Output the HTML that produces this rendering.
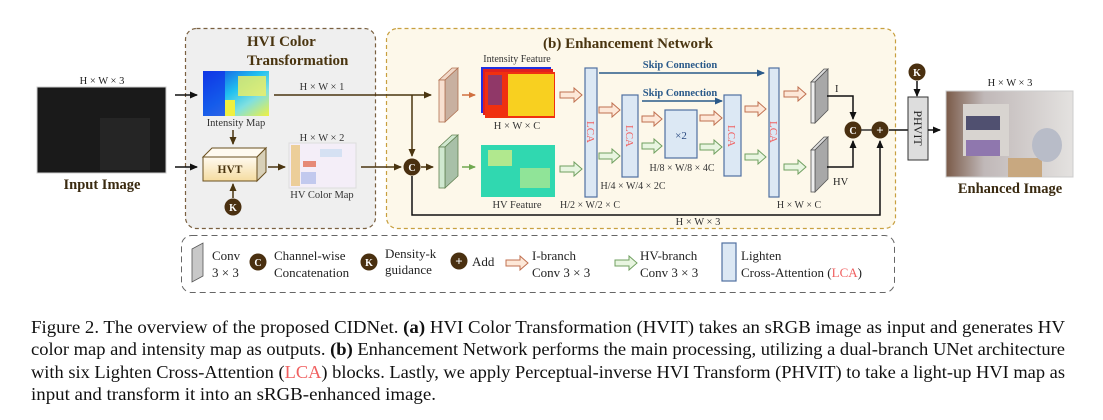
<!DOCTYPE html>
<html><head><meta charset="utf-8"><style>
html,body{margin:0;padding:0;background:#fff;}
svg{display:block;}
text{font-family:"Liberation Serif",serif;}
</style></head><body>
<svg width="1103" height="420" viewBox="0 0 1103 420" xmlns="http://www.w3.org/2000/svg">
<defs>
<marker id="ab" markerWidth="8" markerHeight="8" refX="7" refY="4" orient="auto" markerUnits="userSpaceOnUse"><path d="M0,0.5 L8,4 L0,7.5 z" fill="#111"/></marker>
<marker id="abr" markerWidth="8" markerHeight="8" refX="7" refY="4" orient="auto" markerUnits="userSpaceOnUse"><path d="M0,0.5 L8,4 L0,7.5 z" fill="#4a3510"/></marker>
<marker id="abl" markerWidth="8" markerHeight="8" refX="7" refY="4" orient="auto" markerUnits="userSpaceOnUse"><path d="M0,0.5 L8,4 L0,7.5 z" fill="#2a5a8a"/></marker>
<marker id="aor" markerWidth="7" markerHeight="7" refX="6" refY="3.5" orient="auto" markerUnits="userSpaceOnUse"><path d="M0,0.5 L7,3.5 L0,6.5 z" fill="#d07040"/></marker>
<marker id="agr" markerWidth="7" markerHeight="7" refX="6" refY="3.5" orient="auto" markerUnits="userSpaceOnUse"><path d="M0,0.5 L7,3.5 L0,6.5 z" fill="#70a850"/></marker>
<linearGradient id="hvt" x1="0" y1="0" x2="0" y2="1"><stop offset="0" stop-color="#fffaf0"/><stop offset="1" stop-color="#f5dca0"/></linearGradient>
<linearGradient id="imap" x1="0" y1="0" x2="1" y2="1"><stop offset="0" stop-color="#1040e0"/><stop offset="0.45" stop-color="#20c0f0"/><stop offset="0.7" stop-color="#80e0e0"/><stop offset="1" stop-color="#f0f040"/></linearGradient>
<linearGradient id="enh" x1="0" y1="0" x2="1" y2="0"><stop offset="0" stop-color="#7a5a48"/><stop offset="0.3" stop-color="#c0b8b8"/><stop offset="1" stop-color="#e4e2e0"/></linearGradient>
</defs>

<!-- HVI box -->
<rect x="185.5" y="28.5" width="190" height="200" rx="11" fill="#efefef" stroke="#7a6040" stroke-width="1.2" stroke-dasharray="4,3"/>
<text x="247" y="46" font-size="15" font-weight="bold" fill="#4a3510">HVI Color</text>
<text x="247" y="65" font-size="15" font-weight="bold" fill="#4a3510">Transformation</text>

<!-- Enhancement box -->
<rect x="386.5" y="28.5" width="509" height="200" rx="11" fill="#fdf8ea" stroke="#c8a040" stroke-width="1.2" stroke-dasharray="4,3"/>
<text x="543" y="48" font-size="15" font-weight="bold" fill="#4a3510">(b) Enhancement Network</text>

<!-- Input image -->
<text x="102" y="84" font-size="10.5" fill="#222" text-anchor="middle">H × W × 3</text>
<rect x="37" y="87" width="129" height="86" fill="#1a1a1a" stroke="#ccc" stroke-width="1"/>
<rect x="100" y="118" width="50" height="52" fill="#252525"/>
<text x="102" y="189" font-size="14.5" font-weight="bold" fill="#3a2a10" text-anchor="middle">Input Image</text>
<line x1="175" y1="95" x2="197" y2="95" stroke="#111" stroke-width="1.5" marker-end="url(#ab)"/>
<line x1="175" y1="167" x2="197" y2="167" stroke="#111" stroke-width="1.5" marker-end="url(#ab)"/>

<!-- Intensity map -->
<rect x="203" y="71" width="66" height="45" fill="url(#imap)"/>
<rect x="203" y="71" width="22" height="45" fill="#1030e8" opacity="0.7"/>
<rect x="225" y="100" width="10" height="16" fill="#f0f040"/>
<rect x="238" y="76" width="28" height="20" fill="#f4f060" opacity="0.8"/>
<text x="236" y="126" font-size="10.5" fill="#333" text-anchor="middle">Intensity Map</text>
<line x1="233" y1="130" x2="233" y2="144" stroke="#4a3510" stroke-width="1.5" marker-end="url(#abr)"/>

<!-- HVT -->
<polygon points="203,157 212,148 266,148 257,157" fill="#fffaf0" stroke="#6a5020" stroke-width="1"/>
<polygon points="257,157 266,148 266,172 257,181" fill="#d8d0b8" stroke="#6a5020" stroke-width="1"/>
<rect x="203" y="157" width="54" height="24" fill="url(#hvt)" stroke="#6a5020" stroke-width="1"/>
<text x="230" y="173" font-size="11.5" font-weight="bold" fill="#4a3510" text-anchor="middle">HVT</text>
<line x1="233" y1="198" x2="233" y2="184" stroke="#4a3510" stroke-width="1.5" marker-end="url(#abr)"/>
<circle cx="233" cy="207" r="8.5" fill="#4a3010"/>
<text x="233" y="211" font-size="10" font-weight="bold" fill="#fff" text-anchor="middle">K</text>
<line x1="268" y1="167" x2="285" y2="167" stroke="#4a3510" stroke-width="1.5" marker-end="url(#abr)"/>

<!-- HV color map -->
<text x="322" y="141" font-size="10.5" fill="#333" text-anchor="middle">H × W × 2</text>
<rect x="289" y="143" width="67" height="45" fill="#f4eef8" stroke="#ddd"/>
<rect x="291" y="145" width="9" height="41" fill="#e8c070" opacity="0.7"/>
<rect x="303" y="161" width="13" height="6" fill="#e06040" opacity="0.7"/>
<rect x="301" y="172" width="15" height="12" fill="#a0b0e8" opacity="0.6"/>
<rect x="320" y="149" width="22" height="8" fill="#c0d8f0" opacity="0.6"/>
<text x="322" y="198" font-size="10.5" fill="#333" text-anchor="middle">HV Color Map</text>

<!-- connectors -->
<line x1="274" y1="95" x2="431" y2="95" stroke="#4a3510" stroke-width="1.5" marker-end="url(#abr)"/>
<text x="322" y="90" font-size="10.5" fill="#333" text-anchor="middle">H × W × 1</text>
<line x1="412" y1="95" x2="412" y2="156" stroke="#4a3510" stroke-width="1.5" marker-end="url(#abr)"/>
<line x1="361" y1="167" x2="401" y2="167" stroke="#4a3510" stroke-width="1.5" marker-end="url(#abr)"/>
<circle cx="412" cy="167" r="8.5" fill="#4a3010"/>
<text x="412" y="171" font-size="10" font-weight="bold" fill="#fff" text-anchor="middle">C</text>
<line x1="421" y1="167" x2="433" y2="167" stroke="#4a3510" stroke-width="1.5" marker-end="url(#abr)"/>
<polyline points="412,176 412,215 880,215 880,141" fill="none" stroke="#111" stroke-width="1.5" marker-end="url(#ab)"/>
<text x="698" y="225" font-size="10.5" fill="#333" text-anchor="middle">H × W × 3</text>

<!-- left convs -->
<polygon points="439,80 452,68 458,68 445,80" fill="#f0d8c8" stroke="#b07050" stroke-width="0.8"/>
<polygon points="445,80 458,68 458,110 445,122" fill="#c8b0a0" stroke="#b07050" stroke-width="0.8"/>
<rect x="439" y="80" width="6" height="42" fill="#f8e0d0" stroke="#b07050" stroke-width="0.8"/>
<polygon points="439,147 452,135 458,135 445,147" fill="#d0e8d0" stroke="#608050" stroke-width="0.8"/>
<polygon points="445,147 458,135 458,176 445,188" fill="#a8c0a8" stroke="#608050" stroke-width="0.8"/>
<rect x="439" y="147" width="6" height="41" fill="#d0e8d0" stroke="#608050" stroke-width="0.8"/>
<line x1="462" y1="95" x2="475" y2="95" stroke="#d07040" stroke-width="1.5" marker-end="url(#aor)"/>
<line x1="462" y1="167" x2="475" y2="167" stroke="#70a850" stroke-width="1.5" marker-end="url(#agr)"/>

<!-- intensity feature -->
<text x="517" y="62" font-size="10" fill="#333" text-anchor="middle">Intensity Feature</text>
<rect x="481" y="67" width="70" height="46" fill="#2030e0"/>
<rect x="483" y="69" width="70" height="46" fill="#e02020"/>
<rect x="485" y="72" width="70" height="46" fill="#f03010"/>
<rect x="508" y="74" width="46" height="42" fill="#f8d020"/>
<rect x="488" y="75" width="14" height="30" fill="#3040c0" opacity="0.5"/>
<text x="517" y="129" font-size="10.5" fill="#333" text-anchor="middle">H × W × C</text>

<!-- HV feature -->
<rect x="481" y="145" width="74" height="52" fill="#30d8b0"/>
<rect x="488" y="150" width="24" height="16" fill="#e8f080" opacity="0.7"/>
<rect x="520" y="168" width="30" height="20" fill="#f0f080" opacity="0.5"/>
<text x="517" y="208" font-size="10.5" fill="#333" text-anchor="middle">HV Feature</text>

<!-- hollow arrows -->
<g stroke-width="1">
<g stroke="#c07050" fill="#fde8d8">
<path d="M560,92 h14 v-4 l8,7 l-8,7 v-4 h-14 z"/>
<path d="M599,107 h13 v-4 l8,7 l-8,7 v-4 h-13 z"/>
<path d="M642,116 h12 v-4 l8,7 l-8,7 v-4 h-12 z"/>
<path d="M700,115 h14 v-4 l8,7 l-8,7 v-4 h-14 z"/>
<path d="M745,106 h13 v-4 l8,7 l-8,7 v-4 h-13 z"/>
<path d="M784,91 h14 v-4 l8,7 l-8,7 v-4 h-14 z"/>
</g>
<g stroke="#70a060" fill="#e8f5e0">
<path d="M560,166 h14 v-4 l8,7 l-8,7 v-4 h-14 z"/>
<path d="M599,153 h13 v-4 l8,7 l-8,7 v-4 h-13 z"/>
<path d="M642,143 h12 v-4 l8,7 l-8,7 v-4 h-12 z"/>
<path d="M700,144 h14 v-4 l8,7 l-8,7 v-4 h-14 z"/>
<path d="M745,154 h13 v-4 l8,7 l-8,7 v-4 h-13 z"/>
<path d="M784,164 h14 v-4 l8,7 l-8,7 v-4 h-14 z"/>
</g>
</g>

<!-- LCA blocks -->
<g fill="#dce8f4" stroke="#5070a0" stroke-width="1.2">
<rect x="585" y="68" width="12" height="129"/>
<rect x="622" y="95" width="16" height="82"/>
<rect x="665" y="110" width="32" height="48"/>
<rect x="724" y="95" width="17" height="81"/>
<rect x="769" y="68" width="10" height="129"/>
</g>
<g font-size="11" fill="#f06060" text-anchor="middle">
<text transform="translate(587,132) rotate(90)">LCA</text>
<text transform="translate(626,136) rotate(90)">LCA</text>
<text transform="translate(728,136) rotate(90)">LCA</text>
<text transform="translate(770,132) rotate(90)">LCA</text>
</g>
<text x="681" y="139" font-size="11" fill="#2a4a80" text-anchor="middle">×2</text>
<line x1="599" y1="73" x2="764" y2="73" stroke="#2a5a8a" stroke-width="1.5" marker-end="url(#abl)"/>
<text x="680" y="68" font-size="10.5" font-weight="bold" fill="#2a5a8a" text-anchor="middle">Skip Connection</text>
<line x1="642" y1="101" x2="722" y2="101" stroke="#2a5a8a" stroke-width="1.5" marker-end="url(#abl)"/>
<text x="680" y="96" font-size="10.5" font-weight="bold" fill="#2a5a8a" text-anchor="middle">Skip Connection</text>
<text x="590" y="208" font-size="10" fill="#333" text-anchor="middle">H/2 × W/2 × C</text>
<text x="633" y="189" font-size="10" fill="#333" text-anchor="middle">H/4 × W/4 × 2C</text>
<text x="682" y="171" font-size="10" fill="#333" text-anchor="middle">H/8 × W/8 × 4C</text>
<text x="799" y="208" font-size="10" fill="#333" text-anchor="middle">H × W × C</text>

<!-- right gray convs -->
<g stroke="#555" stroke-width="0.8">
<polygon points="811,82 824,69 828,69 815,82" fill="#ddd"/>
<polygon points="815,82 828,69 828,110 815,123" fill="#a8a8a8"/>
<rect x="811" y="82" width="4" height="41" fill="#eee"/>
<polygon points="811,150 824,137 828,137 815,150" fill="#ddd"/>
<polygon points="815,150 828,137 828,179 815,192" fill="#a8a8a8"/>
<rect x="811" y="150" width="4" height="42" fill="#eee"/>
</g>
<text x="835" y="92" font-size="10.5" fill="#222">I</text>
<text x="833" y="185" font-size="10.5" fill="#222">HV</text>
<polyline points="827,96 853,96 853,119" fill="none" stroke="#111" stroke-width="1.5" marker-end="url(#ab)"/>
<polyline points="827,167 853,167 853,141" fill="none" stroke="#111" stroke-width="1.5" marker-end="url(#ab)"/>
<circle cx="853" cy="130" r="8.5" fill="#4a3010"/>
<text x="853" y="134" font-size="10" font-weight="bold" fill="#fff" text-anchor="middle">C</text>
<line x1="861" y1="130" x2="872" y2="130" stroke="#333" stroke-width="1.5"/>
<circle cx="880" cy="130" r="8.5" fill="#4a3010"/>
<text x="880" y="134.5" font-size="13" font-weight="bold" fill="#fff" text-anchor="middle">+</text>
<line x1="889" y1="130" x2="908" y2="130" stroke="#111" stroke-width="1.5"/>

<!-- PHVIT -->
<circle cx="917" cy="72" r="8.5" fill="#4a3010"/>
<text x="917" y="76" font-size="10" font-weight="bold" fill="#fff" text-anchor="middle">K</text>
<line x1="917" y1="81" x2="917" y2="96" stroke="#111" stroke-width="1.5" marker-end="url(#ab)"/>
<rect x="908" y="97" width="20" height="63" fill="#ddd" stroke="#333" stroke-width="1"/>
<text transform="translate(914,128) rotate(90)" font-size="12" fill="#222" text-anchor="middle">PHVIT</text>
<line x1="928" y1="130" x2="940" y2="130" stroke="#111" stroke-width="1.5" marker-end="url(#ab)"/>

<!-- enhanced image -->
<text x="1010" y="86" font-size="10.5" fill="#222" text-anchor="middle">H × W × 3</text>
<rect x="946" y="91" width="127" height="86" fill="url(#enh)" stroke="#ccc"/>
<rect x="963" y="104" width="46" height="52" fill="#d8d4d0"/>
<rect x="966" y="116" width="34" height="14" fill="#505070"/>
<rect x="966" y="140" width="34" height="16" fill="#7050a0" opacity="0.7"/>
<rect x="1008" y="158" width="34" height="19" fill="#c8a880"/>
<ellipse cx="1047" cy="145" rx="15" ry="17" fill="#b8bcc8"/>
<text x="1010" y="193" font-size="14.5" font-weight="bold" fill="#3a2a10" text-anchor="middle">Enhanced Image</text>

<!-- legend -->
<rect x="181.5" y="235.5" width="713" height="57" rx="10" fill="none" stroke="#666" stroke-width="1" stroke-dasharray="6,4"/>
<polygon points="192,249 203,243 203,276 192,282" fill="#c8c8c8" stroke="#555" stroke-width="0.8"/>
<text x="212" y="260" font-size="13" fill="#222">Conv</text>
<text x="212" y="277" font-size="13" fill="#222">3 × 3</text>
<circle cx="258" cy="262" r="8.5" fill="#4a3010"/>
<text x="258" y="266" font-size="10" font-weight="bold" fill="#fff" text-anchor="middle">C</text>
<text x="274" y="260" font-size="13" fill="#222">Channel-wise</text>
<text x="274" y="277" font-size="13" fill="#222">Concatenation</text>
<circle cx="369" cy="262" r="8.5" fill="#4a3010"/>
<text x="369" y="266" font-size="10" font-weight="bold" fill="#fff" text-anchor="middle">K</text>
<text x="385" y="258" font-size="13" fill="#222">Density-k</text>
<text x="385" y="274" font-size="13" fill="#222">guidance</text>
<circle cx="459" cy="261" r="8.5" fill="#4a3010"/>
<text x="459" y="265.5" font-size="13" font-weight="bold" fill="#fff" text-anchor="middle">+</text>
<text x="472" y="266" font-size="13" fill="#222">Add</text>
<path d="M506,260 h14 v-4 l8,7 l-8,7 v-4 h-14 z" fill="#fde8d8" stroke="#c07050"/>
<text x="532" y="260" font-size="13" fill="#222">I-branch</text>
<text x="532" y="277" font-size="13" fill="#222">Conv 3 × 3</text>
<path d="M615,260 h14 v-4 l8,7 l-8,7 v-4 h-14 z" fill="#e8f5e0" stroke="#70a060"/>
<text x="640" y="260" font-size="13" fill="#222">HV-branch</text>
<text x="640" y="277" font-size="13" fill="#222">Conv 3 × 3</text>
<rect x="722" y="243" width="14" height="38" fill="#dce8f4" stroke="#5070a0" stroke-width="1.2"/>
<text x="741" y="260" font-size="13" fill="#222">Lighten</text>
<text x="741" y="277" font-size="13" fill="#222">Cross-Attention (<tspan fill="#f06060">LCA</tspan>)</text>

<!-- caption -->
<g font-size="17.5" fill="#111">
<text x="31" y="333" textLength="1034" lengthAdjust="spacingAndGlyphs">Figure 2. The overview of the proposed CIDNet. <tspan font-weight="bold">(a)</tspan> HVI Color Transformation (HVIT) takes an sRGB image as input and generates HV</text>
<text x="31" y="355" textLength="1034" lengthAdjust="spacingAndGlyphs">color map and intensity map as outputs. <tspan font-weight="bold">(b)</tspan> Enhancement Network performs the main processing, utilizing a dual-branch UNet architecture</text>
<text x="31" y="378" textLength="1034" lengthAdjust="spacingAndGlyphs">with six Lighten Cross-Attention (<tspan fill="#f06060">LCA</tspan>) blocks. Lastly, we apply Perceptual-inverse HVI Transform (PHVIT) to take a light-up HVI map as</text>
<text x="31" y="400" textLength="405" lengthAdjust="spacingAndGlyphs">input and transform it into an sRGB-enhanced image.</text>
</g>
</svg>
</body></html>
